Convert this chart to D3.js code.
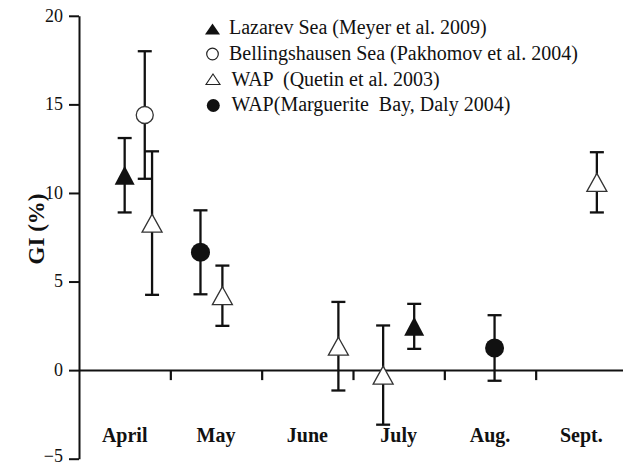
<!DOCTYPE html>
<html>
<head>
<meta charset="utf-8">
<script src="https://cdn.jsdelivr.net/npm/d3@7"></script>
<style>
body { margin: 0; background: #fff; }
svg { display: block; }
</style>
</head>
<body>
<svg width="623" height="465" font-family="'Liberation Serif', 'Times New Roman', Times, serif"></svg>
<script>
// months on the x axis
var months = ['April', 'May', 'June', 'July', 'Aug.', 'Sept.'];
var yTicks = [-5, 0, 5, 10, 15, 20];

// series: t = sampling time in months after 1 April, gi = mean, err = error bar
var lazarev = [{t: 0.50, gi: 11.0, err: 2.1}, {t: 3.67, gi: 2.47, err: 1.27}];
var bellings = [{t: 0.72, gi: 14.4, err: 3.6}];
var quetin = [
  {t: 0.80, gi: 8.3, err: 4.05},
  {t: 1.57, gi: 4.2, err: 1.7},
  {t: 2.84, gi: 1.35, err: 2.5},
  {t: 3.33, gi: -0.28, err: 2.8},
  {t: 5.67, gi: 10.6, err: 1.7}
];
var daly = [{t: 1.33, gi: 6.65, err: 2.37}, {t: 4.55, gi: 1.25, err: 1.85}];

var legendLabels = [
  'Lazarev Sea (Meyer et al. 2009)',
  'Bellingshausen Sea (Pakhomov et al. 2004)',
  'WAP  (Quetin et al. 2003)',
  'WAP(Marguerite  Bay, Daly 2004)'
];

var serif = "'Liberation Serif', 'Times New Roman', Times, serif";
var svg = d3.select('svg');
var x = d3.scaleLinear().domain([0, 6]).range([79, 627]);
var y = d3.scaleLinear().domain([-5, 20]).range([458.7, 15.8]);

// y axis
var yAxis = svg.append('g').attr('transform', 'translate(79,0)')
  .call(d3.axisLeft(y).tickValues(yTicks).tickSize(10).tickSizeOuter(0).tickPadding(6));
yAxis.attr('font-family', serif).attr('font-size', 18);
yAxis.select('.domain').attr('stroke', '#111').attr('stroke-width', 2);
yAxis.selectAll('.tick line').attr('stroke', '#111').attr('stroke-width', 2);
yAxis.selectAll('.tick text').attr('fill', '#111')
  .attr('dy', function (d) { return d === -5 ? '0.15em' : '0.3em'; });

// x axis along zero
var xAxis = svg.append('g').attr('transform', 'translate(0,' + y(0) + ')')
  .call(d3.axisBottom(x).tickValues([1, 2, 3, 4, 5]).tickSize(10).tickSizeOuter(0).tickFormat(''));
xAxis.select('.domain').attr('stroke', '#111').attr('stroke-width', 2);
xAxis.selectAll('.tick line').attr('stroke', '#111').attr('stroke-width', 2.2);

svg.selectAll('.month').data(months).enter().append('text')
  .attr('class', 'month')
  .attr('x', function (d, i) { return x(i + 0.5); })
  .attr('y', 442)
  .attr('text-anchor', 'middle')
  .attr('font-size', 20)
  .attr('font-weight', 'bold')
  .attr('fill', '#111')
  .text(function (d) { return d; });

svg.append('text')
  .attr('transform', 'translate(44,229) rotate(-90)')
  .attr('text-anchor', 'middle')
  .attr('font-size', 23)
  .attr('font-weight', 'bold')
  .attr('fill', '#111')
  .text('GI (%)');

// error bars
function errorBars(data) {
  var g = svg.append('g').attr('stroke', '#111').attr('stroke-width', 2.3);
  data.forEach(function (d) {
    var cx = x(d.t);
    g.append('line').attr('x1', cx).attr('x2', cx).attr('y1', y(d.gi + d.err)).attr('y2', y(d.gi - d.err));
    g.append('line').attr('x1', cx - 7).attr('x2', cx + 7).attr('y1', y(d.gi + d.err)).attr('y2', y(d.gi + d.err));
    g.append('line').attr('x1', cx - 7).attr('x2', cx + 7).attr('y1', y(d.gi - d.err)).attr('y2', y(d.gi - d.err));
  });
}
[lazarev, bellings, quetin, daly].forEach(errorBars);

function triPath(cx, cy, w, h) {
  return 'M' + cx + ',' + (cy - h / 2) + 'L' + (cx + w / 2) + ',' + (cy + h / 2) + 'L' + (cx - w / 2) + ',' + (cy + h / 2) + 'Z';
}

svg.selectAll('.laz').data(lazarev).enter().append('path')
  .attr('d', function (d) { return triPath(x(d.t), y(d.gi), 20, 19); })
  .attr('fill', '#111');
svg.selectAll('.bel').data(bellings).enter().append('circle')
  .attr('cx', function (d) { return x(d.t); }).attr('cy', function (d) { return y(d.gi); })
  .attr('r', 8.5).attr('fill', '#fff').attr('stroke', '#333').attr('stroke-width', 1.3);
svg.selectAll('.que').data(quetin).enter().append('path')
  .attr('d', function (d) { return triPath(x(d.t), y(d.gi), 20, 18); })
  .attr('fill', '#fff').attr('stroke', '#333').attr('stroke-width', 1.3);
svg.selectAll('.dal').data(daly).enter().append('circle')
  .attr('cx', function (d) { return x(d.t); }).attr('cy', function (d) { return y(d.gi); })
  .attr('r', 9.5).attr('fill', '#111');

// legend
var leg = svg.append('g').attr('font-family', serif).attr('font-size', 20).attr('fill', '#111');
leg.selectAll('text').data(legendLabels).enter().append('text')
  .attr('x', function (d, i) { return i < 2 ? 229 : 231.5; })
  .attr('y', function (d, i) { return 34.3 + i * 25.7; })
  .attr('xml:space', 'preserve')
  .style('white-space', 'pre')
  .text(function (d) { return d; });
leg.append('path').attr('d', triPath(212.5, 29, 15, 11)).attr('fill', '#111');
leg.append('circle').attr('cx', 212.5).attr('cy', 54).attr('r', 5.8).attr('fill', '#fff').attr('stroke', '#222').attr('stroke-width', 1.2);
leg.append('path').attr('d', triPath(213, 79.3, 14, 10.5)).attr('fill', '#fff').attr('stroke', '#222').attr('stroke-width', 1.1);
leg.append('circle').attr('cx', 213.3).attr('cy', 105.5).attr('r', 6.5).attr('fill', '#111');
</script>
</body>
</html>
